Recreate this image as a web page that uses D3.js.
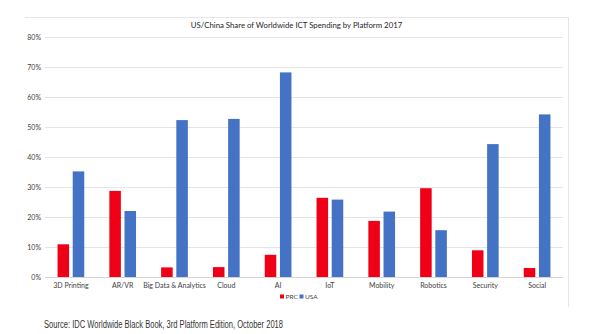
<!DOCTYPE html>
<html><head><meta charset="utf-8">
<script src="https://cdn.jsdelivr.net/npm/d3@7"></script>
<style>body{margin:0;background:#fff}svg{display:block}</style>
</head><body><svg id="c" width="600" height="334"></svg>
<script>
const categories = ["3D Printing","AR/VR","Big Data & Analytics","Cloud","AI","IoT","Mobility","Robotics","Security","Social"];
const prc = [0.109,0.287,0.032,0.033,0.074,0.264,0.187,0.296,0.089,0.030];
const usa = [0.352,0.220,0.523,0.527,0.682,0.258,0.218,0.156,0.443,0.542];
const seriesNames = ["PRC","USA"];
const yTicks = [0,0.1,0.2,0.3,0.4,0.5,0.6,0.7,0.8];
const title = "US/China Share of Worldwide ICT Spending by Platform 2017";
const source = "Source:  IDC Worldwide Black Book, 3rd Platform Edition, October 2018";

const colors = {PRC:"#f00017", USA:"#4472c4"};
const svg = d3.select("#c");
const font = "Lato, 'Open Sans', sans-serif";

// chart frame
svg.append("path").attr("d","M25,17.5 H568.5 V307").attr("fill","none").attr("stroke","#e6e6e6").attr("stroke-width",1);

const x = d3.scaleBand().domain(categories).range([45,563]);
const y = d3.scaleLinear().domain([0,0.8]).range([277,37]);
const groupW = 26.7;
const xs = d3.scaleBand().domain(seriesNames).range([0,groupW]).paddingInner(0.24);

// gridlines
svg.append("g").selectAll("line").data(yTicks).join("line")
  .attr("x1",45).attr("x2",563).attr("y1",d=>Math.round(y(d))+0.5).attr("y2",d=>Math.round(y(d))+0.5)
  .attr("stroke",d=>d===0?"#d4d4d4":"#e4e4e4").attr("stroke-width",1);

// y axis
const ya = svg.append("g").attr("transform","translate(41,0)")
  .call(d3.axisLeft(y).tickValues(yTicks).tickFormat(d3.format(".0%")).tickSize(0).tickPadding(0));
ya.select(".domain").remove();
ya.selectAll("text").attr("font-family",font).attr("font-size",7).attr("fill","#404040");

// x axis
const xa = svg.append("g").attr("transform","translate(0,277)")
  .call(d3.axisBottom(x).tickSize(0).tickPadding(6));
xa.select(".domain").remove();
xa.selectAll("text").attr("font-family",font).attr("font-size",7).attr("fill","#404040");

// bars
const data = categories.map((c,i)=>({c, PRC:prc[i], USA:usa[i]}));
const g = svg.append("g").selectAll("g").data(data).join("g")
  .attr("transform",d=>`translate(${x(d.c)+x.bandwidth()/2-groupW/2},0)`);
g.selectAll("rect").data(d=>seriesNames.map(k=>({k,v:d[k]}))).join("rect")
  .attr("x",d=>xs(d.k)).attr("width",xs.bandwidth())
  .attr("y",d=>y(d.v)).attr("height",d=>y(0)-y(d.v))
  .attr("fill",d=>colors[d.k]);

// title
svg.append("text").attr("x",296.5).attr("y",28).attr("text-anchor","middle")
  .attr("font-family",font).attr("font-size",7.8).attr("fill","#262626").text(title);

// legend
const lg = svg.append("g").attr("transform","translate(280,297)");
const items = lg.selectAll("g").data(seriesNames).join("g").attr("transform",(d,i)=>`translate(${i*19.5},0)`);
items.append("rect").attr("x",0).attr("y",-2.5).attr("width",4).attr("height",4).attr("fill",d=>colors[d]);
items.append("text").attr("x",5.5).attr("y",2).attr("font-family",font).attr("font-size",6.5).attr("fill","#404040").text(d=>d);

// source
svg.append("text").attr("x",44).attr("y",328).attr("font-family","'Liberation Sans', Arial, sans-serif")
  .attr("font-size",10).attr("fill","#333").attr("textLength",239).attr("lengthAdjust","spacingAndGlyphs").text(source);
</script></body></html>
